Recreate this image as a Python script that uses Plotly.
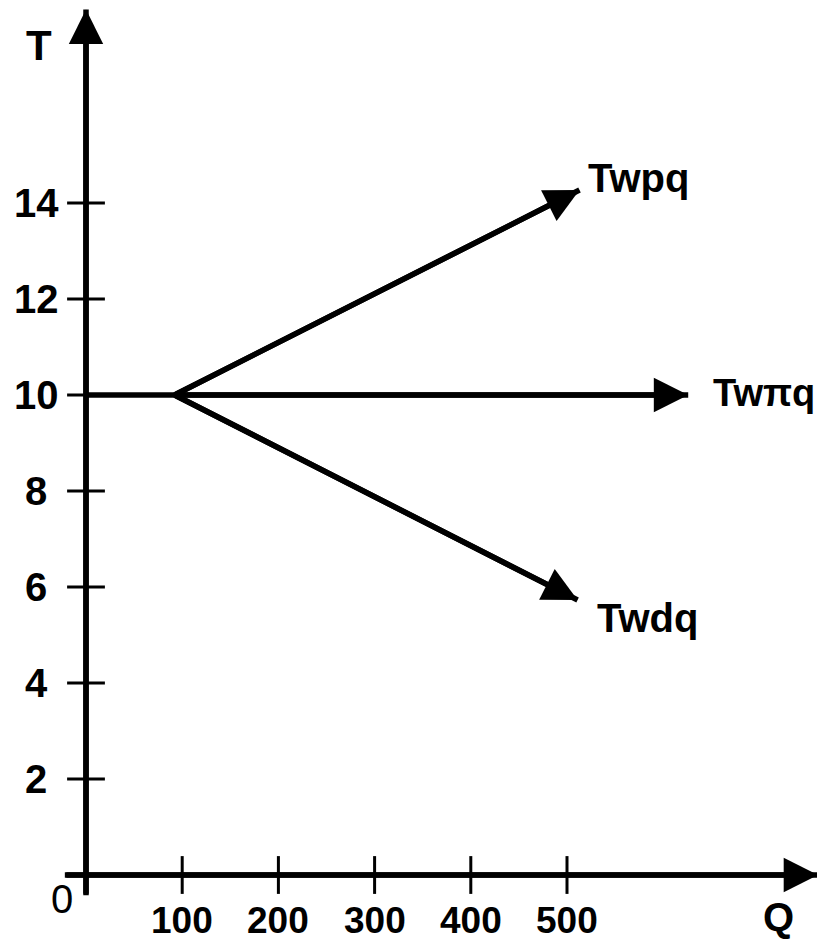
import plotly.graph_objects as go

# ---- data ----
T_TICKS = [2, 4, 6, 8, 10, 12, 14]
T_TICK_LABELS = ["2", "4", "6", "8", "10", "12", "14"]
Q_TICKS = [100, 200, 300, 400, 500]
Q_TICK_LABELS = ["100", "200", "300", "400", "500"]

KINK_Q = 92
KINK_T = 10
SERIES_NAMES = ["Twpq", "Twπq", "Twdq"]
SERIES_END_Q = [513, 626, 511]
SERIES_END_T = [14.27, 10, 5.73]

Q_AXIS_EXTENT = [-22, 761]
T_AXIS_EXTENT = [-0.42, 18.03]

# ---- styling ----
PAGE_OFFSET = 8                 # default body margin of the html page
W, H = 825 - PAGE_OFFSET, 941 - PAGE_OFFSET
X0_PX, X_SCALE = 86 - PAGE_OFFSET, 0.962      # px position of Q=0, px per unit
Y0_PX, Y_SCALE = 875 - PAGE_OFFSET, 48.0      # px position of T=0, px per unit
x_range = [-X0_PX / X_SCALE, (W - X0_PX) / X_SCALE]
y_range = [(Y0_PX - H) / Y_SCALE, Y0_PX / Y_SCALE]

FONT = "Liberation Sans, Arial, sans-serif"
BLACK = "#000000"
LINE_W = 5.5
AXIS_W = 5.5
HEAD = 1.25

fig = go.Figure()

# axes lines
fig.add_trace(go.Scatter(x=Q_AXIS_EXTENT, y=[0, 0], mode="lines",
                         line=dict(color=BLACK, width=AXIS_W), hoverinfo="skip"))
fig.add_trace(go.Scatter(x=[0, 0], y=T_AXIS_EXTENT, mode="lines",
                         line=dict(color=BLACK, width=AXIS_W), hoverinfo="skip"))

# crossing tick marks
fig.add_trace(go.Scatter(x=[0] * len(T_TICKS), y=T_TICKS, mode="markers",
                         marker=dict(symbol="line-ew", size=27,
                                     line=dict(color=BLACK, width=3)),
                         hoverinfo="skip"))
fig.add_trace(go.Scatter(x=Q_TICKS, y=[0] * len(Q_TICKS), mode="markers",
                         marker=dict(symbol="line-ns", size=27,
                                     line=dict(color=BLACK, width=3)),
                         hoverinfo="skip"))

# series lines
for i, name in enumerate(SERIES_NAMES):
    xs = [KINK_Q, SERIES_END_Q[i]]
    ys = [KINK_T, SERIES_END_T[i]]
    if i == 1:
        xs = [0] + xs
        ys = [KINK_T] + ys
    fig.add_trace(go.Scatter(x=xs, y=ys, mode="lines", name=name,
                             line=dict(color=BLACK, width=LINE_W)))

annotations = []


def arrow(x0, y0, x1, y1, width, size):
    annotations.append(dict(x=x1, y=y1, ax=x0, ay=y0, xref="x", yref="y",
                            axref="x", ayref="y", text="", showarrow=True,
                            arrowhead=2, arrowsize=size, arrowwidth=width,
                            arrowcolor=BLACK, standoff=0, startstandoff=0))


# arrowheads for axes and series
arrow(Q_AXIS_EXTENT[0], 0, Q_AXIS_EXTENT[1], 0, AXIS_W, HEAD)
arrow(0, T_AXIS_EXTENT[0], 0, T_AXIS_EXTENT[1], AXIS_W, HEAD)
for i in range(len(SERIES_NAMES)):
    arrow(KINK_Q, KINK_T, SERIES_END_Q[i], SERIES_END_T[i], LINE_W, HEAD)

# series labels
label_shift = [(6, 12), (23, 2), (17, -18)]
label_size = [40, 38, 40]
for i, name in enumerate(SERIES_NAMES):
    annotations.append(dict(x=SERIES_END_Q[i], y=SERIES_END_T[i], xref="x", yref="y",
                            text=name, showarrow=False, xanchor="left", yanchor="middle",
                            xshift=label_shift[i][0], yshift=label_shift[i][1],
                            font=dict(family=FONT, size=label_size[i], color=BLACK,
                                      weight="bold")))

# tick labels
for v, lab in zip(T_TICKS, T_TICK_LABELS):
    annotations.append(dict(x=0, y=v, xref="x", yref="y", text=lab, showarrow=False,
                            xanchor="center", yanchor="middle", xshift=-50, yshift=0,
                            font=dict(family=FONT, size=40, color=BLACK, weight="bold")))
for v, lab in zip(Q_TICKS, Q_TICK_LABELS):
    annotations.append(dict(x=v, y=0, xref="x", yref="y", text=lab, showarrow=False,
                            xanchor="center", yanchor="top", xshift=0, yshift=-23,
                            font=dict(family=FONT, size=37, color=BLACK, weight="bold")))

# origin and axis titles
annotations.append(dict(x=0, y=0, xref="x", yref="y", text="0", showarrow=False,
                        xanchor="right", yanchor="top", xshift=-11, yshift=0,
                        font=dict(family=FONT, size=40, color=BLACK)))
annotations.append(dict(x=0, y=max(T_TICKS), xref="x", yref="y", text="T",
                        showarrow=False, xanchor="right", yanchor="middle",
                        xshift=-32, yshift=158,
                        font=dict(family=FONT, size=42, color=BLACK, weight="bold")))
annotations.append(dict(x=Q_AXIS_EXTENT[1], y=0, xref="x", yref="y", text="Q",
                        showarrow=False, xanchor="center", yanchor="middle",
                        xshift=-40, yshift=-42,
                        font=dict(family=FONT, size=40, color=BLACK, weight="bold")))

fig.update_layout(
    width=W, height=H,
    margin=dict(l=0, r=0, t=0, b=0, pad=0),
    paper_bgcolor="white", plot_bgcolor="white",
    showlegend=False,
    xaxis=dict(range=x_range, visible=False, fixedrange=True),
    yaxis=dict(range=y_range, visible=False, fixedrange=True),
    annotations=annotations,
)

fig.write_html("out.html")
